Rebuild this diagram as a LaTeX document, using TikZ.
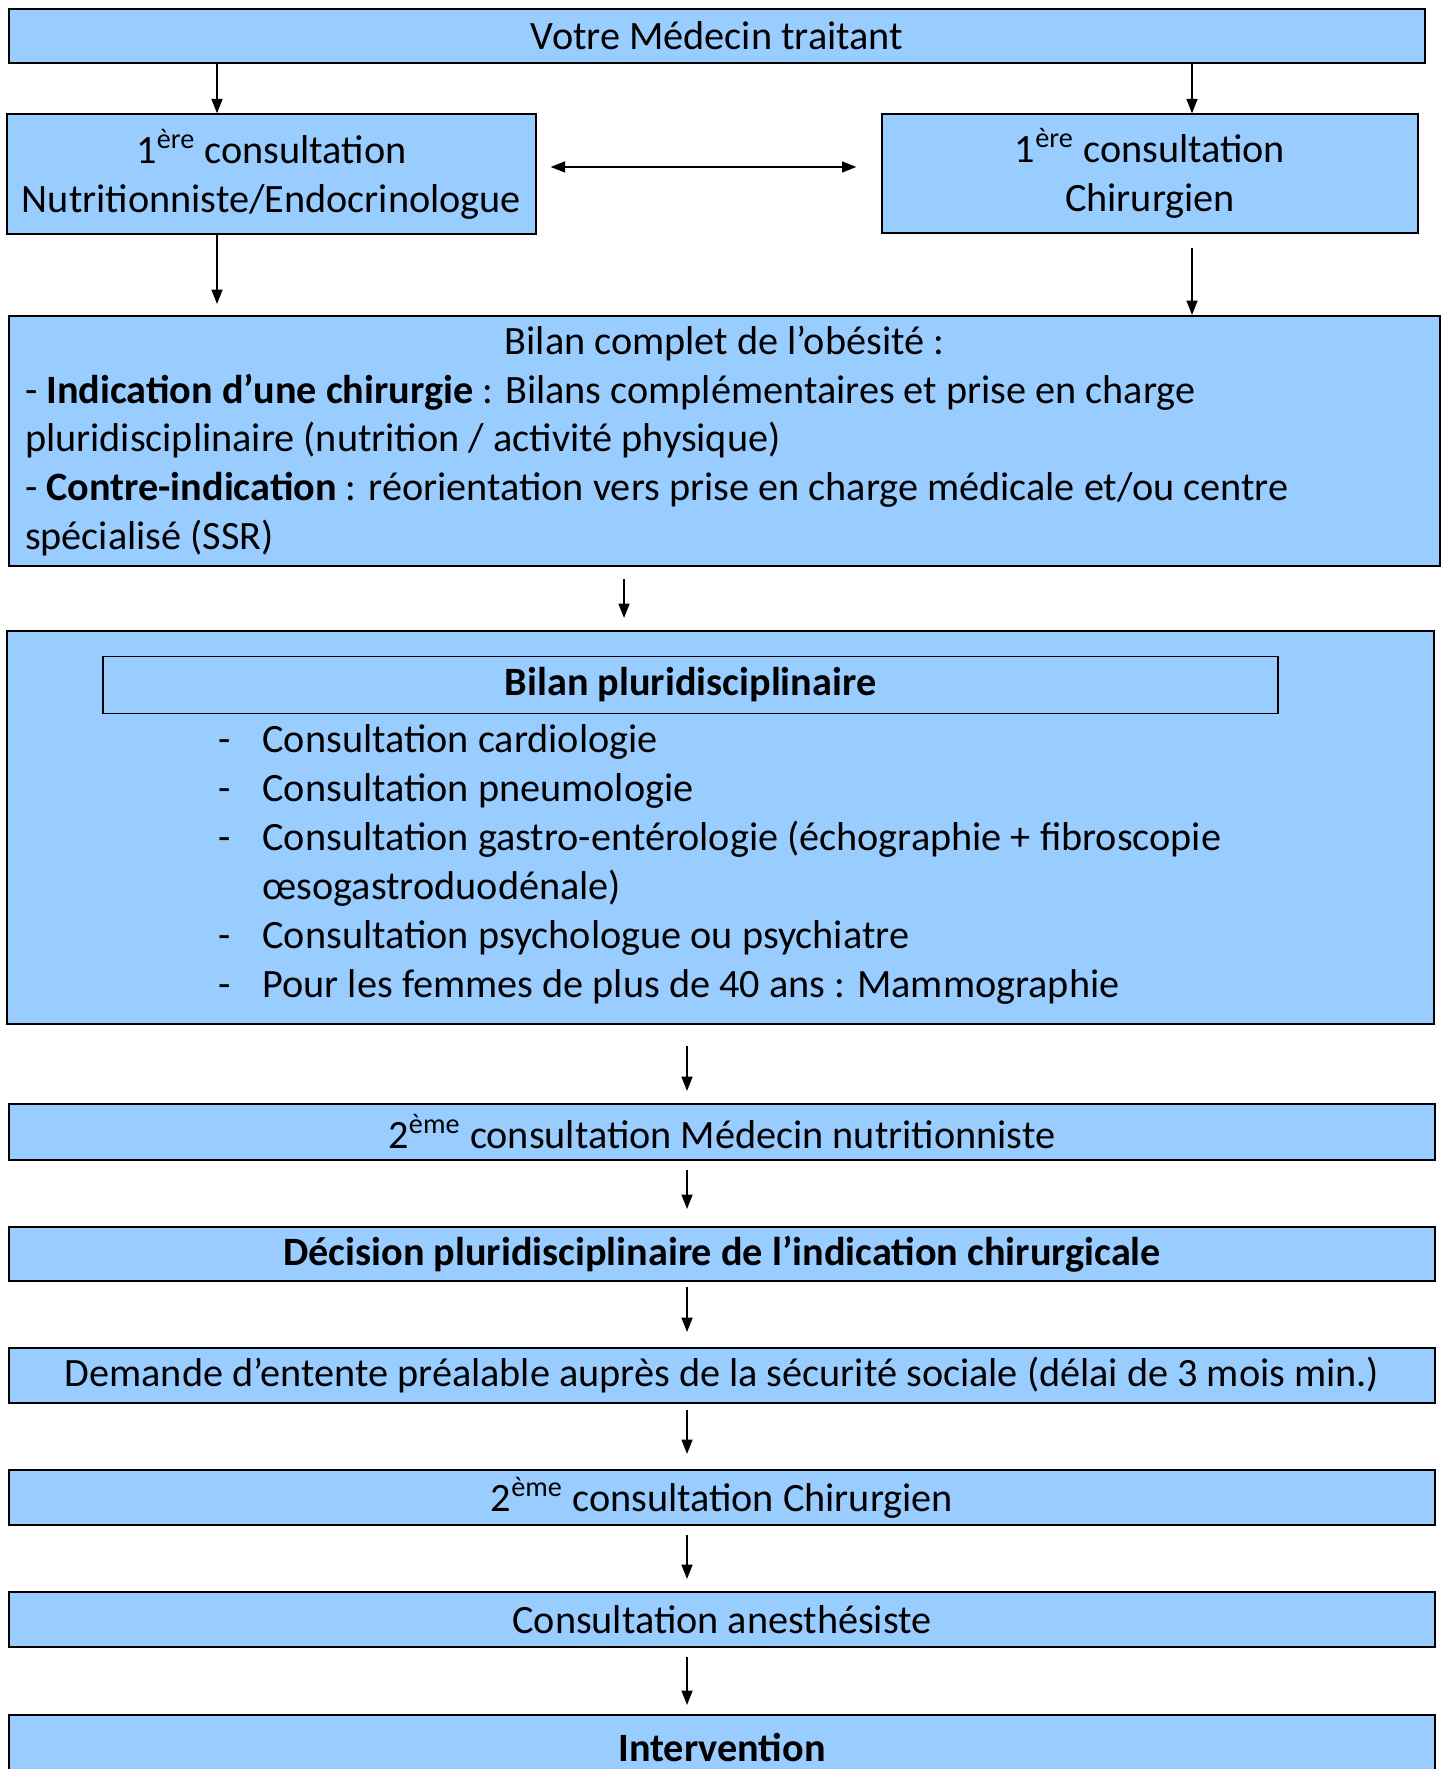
\documentclass[tikz,border=0pt]{standalone}
\usepackage{fontspec}
\setmainfont{Carlito}
\usetikzlibrary{arrows.meta}
\definecolor{boxblue}{RGB}{153,204,255}
\newlength\upx
\setlength\upx{0.348pt}
\begin{document}
\begin{tikzpicture}[x=0.348pt, y=-0.348pt,
  box/.style={draw=black, line width=0.7pt, fill=boxblue, inner sep=0pt, align=center, font=\fontsize{14}{17}\selectfont},
  thinbox/.style={box, line width=0.45pt},
  arr/.style={-{Triangle[length=5pt, width=3.8pt]}, line width=0.6pt},
  arrboth/.style={{Triangle[length=5pt, width=3.8pt]}-{Triangle[length=5pt, width=3.8pt]}, line width=0.6pt}]
\clip (0,0) rectangle (1446,1769);
% columns of the arrows
\coordinate (xl) at (217,0);
\coordinate (xr) at (1192,0);
\coordinate (xa) at (624,0);
\coordinate (xm) at (687,0);
\coordinate (yd) at (0,167);
% top part
\node[box, minimum width=1416\upx, minimum height=54\upx] (medecin) at (717,36) {Votre Médecin traitant};
\node[thinbox, minimum width=529\upx, minimum height=120\upx] (nutri1) at (271.5,174) {1\textsuperscript{ère} consultation\\Nutritionniste/Endocrinologue};
\node[thinbox, minimum width=536\upx, minimum height=119\upx] (chir1) at (1150,173.5) {1\textsuperscript{ère} consultation\\Chirurgien};
\node[box, minimum width=1431\upx, minimum height=250\upx, inner xsep=16\upx, text width=1399\upx, align=flush left] (bilan) at (724.5,441) {\makebox[1399\upx]{Bilan complet de l’obésité :}\\- \textbf{Indication d’une chirurgie} : Bilans complémentaires et prise en charge\\pluridisciplinaire (nutrition / activité physique)\\- \textbf{Contre-indication} : réorientation vers prise en charge médicale et/ou centre\\spécialisé (SSR)};
% bilan pluridisciplinaire
\node[box, minimum width=1427\upx, minimum height=393\upx] (pluri) at (720.5,827.5) {};
\node[thinbox, minimum width=1175\upx, minimum height=57\upx] (pluritit) at (690.5,685) {\textbf{Bilan pluridisciplinaire}};
\node[anchor=north west, inner sep=0pt, font=\fontsize{14}{17}\selectfont] (plurilist) at (218,718) {\begin{tabular}{@{}p{44\upx}@{}l@{}}
- & Consultation cardiologie\\
- & Consultation pneumologie\\
- & Consultation gastro-entérologie (échographie + fibroscopie\\
  & œsogastroduodénale)\\
- & Consultation psychologue ou psychiatre\\
- & Pour les femmes de plus de 40 ans : Mammographie
\end{tabular}};
% bottom chain
\node[box, minimum width=1426\upx, minimum height=56\upx] (nutri2) at (722,1132) {2\textsuperscript{ème} consultation Médecin nutritionniste};
\node[box, minimum width=1426\upx, minimum height=54\upx] (decision) at (722,1254) {\textbf{Décision pluridisciplinaire de l’indication chirurgicale}};
\node[box, minimum width=1426\upx, minimum height=55\upx] (demande) at (722,1375.5) {Demande d’entente préalable auprès de la sécurité sociale (délai de 3 mois min.)};
\node[box, minimum width=1426\upx, minimum height=55\upx] (chir2) at (722,1497.5) {2\textsuperscript{ème} consultation Chirurgien};
\node[box, minimum width=1426\upx, minimum height=55\upx] (anesth) at (722,1619.5) {Consultation anesthésiste};
\node[box, minimum width=1426\upx, minimum height=64\upx] (interv) at (722,1747) {\textbf{Intervention}};
% arrows
\draw[arr] (medecin.south -| xl) -- (nutri1.north -| xl);
\draw[arr] (medecin.south -| xr) -- (chir1.north -| xr);
\draw[arrboth, shorten <=14\upx, shorten >=25\upx] (nutri1.east |- yd) -- (chir1.west |- yd);
\draw[arr, shorten >=11\upx] (nutri1.south -| xl) -- (bilan.north -| xl);
\draw[arr, shorten <=14\upx] (chir1.south -| xr) -- (bilan.north -| xr);
\draw[arr, shorten <=12\upx, shorten >=12\upx] (bilan.south -| xa) -- (pluri.north -| xa);
\draw[arr, shorten <=21\upx, shorten >=12\upx] (pluri.south -| xm) -- (nutri2.north -| xm);
\draw[arr, shorten <=9\upx, shorten >=17\upx] (nutri2.south -| xm) -- (decision.north -| xm);
\draw[arr, shorten <=5\upx, shorten >=15\upx] (decision.south -| xm) -- (demande.north -| xm);
\draw[arr, shorten <=6\upx, shorten >=15\upx] (demande.south -| xm) -- (chir2.north -| xm);
\draw[arr, shorten <=9\upx, shorten >=12\upx] (chir2.south -| xm) -- (anesth.north -| xm);
\draw[arr, shorten <=9\upx, shorten >=9\upx] (anesth.south -| xm) -- (interv.north -| xm);
\end{tikzpicture}
\end{document}
